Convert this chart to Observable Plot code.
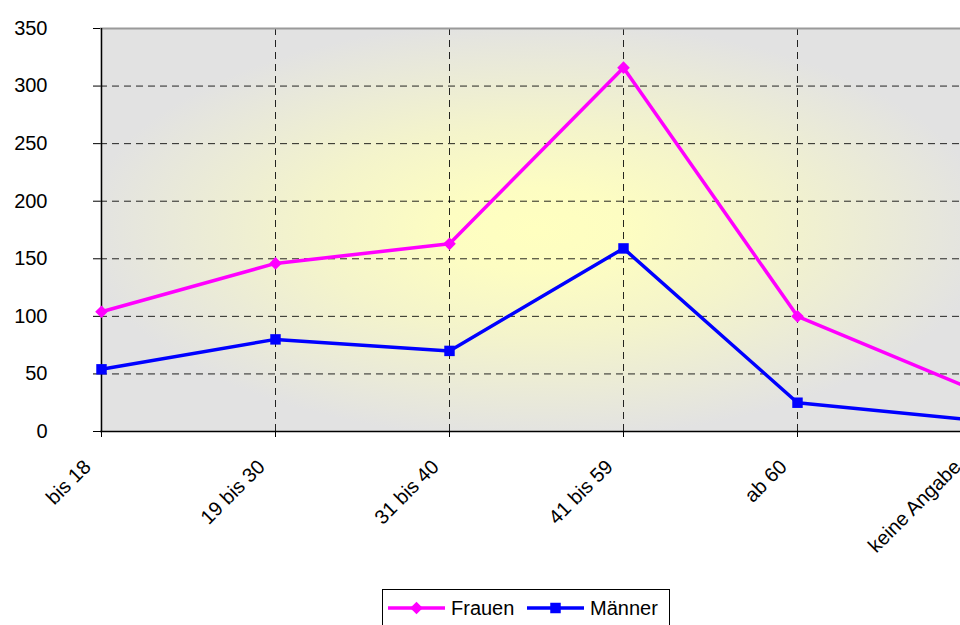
<!DOCTYPE html>
<html><head><meta charset="utf-8">
<script src="https://cdn.jsdelivr.net/npm/d3@7"></script>
<script src="https://cdn.jsdelivr.net/npm/@observablehq/plot@0.6"></script>
<style>
html,body{margin:0;padding:0;background:#fff;width:960px;height:625px;overflow:hidden;font-family:Arial,"Liberation Sans",sans-serif;}
#chart{position:relative;width:960px;height:625px;overflow:hidden;}
#chart svg.plot{position:absolute;left:0;top:0;max-width:none !important;width:1000px !important;height:588px !important;}
#legend{position:absolute;left:382px;top:589px;width:288px;height:40px;border:1px solid #000;box-sizing:border-box;background:#fff;}
.item{position:absolute;top:0;height:36px;display:flex;align-items:center;font-size:20px;color:#000;}
.item svg{margin-right:6px;}
</style></head><body><div id="chart"></div>
<script>
const categories = ["bis 18","19 bis 30","31 bis 40","41 bis 59","ab 60","keine Angabe"];
const frauen = [104,146,163,316,100,37];
const maenner = [54,80,70,159,25,10];
const yTicks = [0,50,100,150,200,250,300,350];
const seriesNames = ["Frauen","Männer"];
const seriesColors = ["#ff00ff","#0000ff"];
const seriesSymbols = ["diamond2","square"];

const data = categories.flatMap((c,i)=>[
  {cat:c, value:frauen[i], series:seriesNames[0]},
  {cat:c, value:maenner[i], series:seriesNames[1]}
]);

const plot = Plot.plot({
  width: 1000, height: 588,
  marginTop: 28, marginBottom: 157, marginLeft: 100, marginRight: 27.5,
  style: {fontFamily: "Arial, 'Liberation Sans', sans-serif", fontSize: "20px", color: "#000", background: "transparent", overflow: "visible", maxWidth: "none"},
  x: {type: "point", domain: categories, padding: 0, label: null},
  y: {domain: [0, 350], label: null},
  color: {domain: seriesNames, range: seriesColors},
  marks: [
    Plot.frame({fill: "url(#bgGrad)", stroke: null}),
    Plot.gridY(yTicks.filter(d => d > 0 && d < 350), {stroke: "#000", strokeOpacity: 0.85, strokeDasharray: "7,5", strokeWidth: 1}),
    Plot.gridX(categories.slice(1), {stroke: "#000", strokeOpacity: 0.85, strokeDasharray: "7,5", strokeWidth: 1}),
    Plot.ruleY([350], {stroke: "#9a9a9a", strokeWidth: 2}),
    Plot.axisY({ticks: yTicks, tickSize: 7, tickPadding: 46, label: null}),
    Plot.axisX({tickSize: 6, tickFormat: () => "", label: null}),
    Plot.axisX({tickSize: 0, tickRotate: -45, tickPadding: 32, dx: -14, label: null}),
    Plot.ruleX([categories[0]], {stroke: "#000", strokeWidth: 1.5}),
    Plot.ruleY([0], {stroke: "#000", strokeWidth: 1.5}),
    Plot.line(data, {x: "cat", y: "value", stroke: "series", z: "series", strokeWidth: 3.5}),
    Plot.dot(data.filter(d => d.series === seriesNames[0]), {x: "cat", y: "value", fill: "series", stroke: null, symbol: seriesSymbols[0], r: 5.7}),
    Plot.dot(data.filter(d => d.series === seriesNames[1]), {x: "cat", y: "value", fill: "series", stroke: null, symbol: seriesSymbols[1], r: 5.9})
  ]
});
plot.classList.add("plot");
const svg = d3.select(plot);
const defs = svg.insert("defs", ":first-child");
const grad = defs.append("radialGradient").attr("id", "bgGrad").attr("cx", "0.5").attr("cy", "0.5").attr("r", "0.52");
grad.append("stop").attr("offset", "0").attr("stop-color", "#ffffc0");
grad.append("stop").attr("offset", "0.2").attr("stop-color", "#fdfdc2");
grad.append("stop").attr("offset", "0.5").attr("stop-color", "#f4f4cb");
grad.append("stop").attr("offset", "1").attr("stop-color", "#e2e2e2");
document.getElementById("chart").appendChild(plot);

// Legend
const legend = document.createElement("div");
legend.id = "legend";
const itemLefts = [5, 144];
seriesNames.forEach((name, i) => {
  const item = document.createElement("div");
  item.className = "item";
  item.style.left = itemLefts[i] + "px";
  const s = d3.create("svg").attr("width", 57).attr("height", 20);
  s.append("line").attr("x1", 0).attr("x2", 57).attr("y1", 10).attr("y2", 10).attr("stroke", seriesColors[i]).attr("stroke-width", 3.5);
  const sym = i === 0 ? d3.symbolDiamond2 : d3.symbolSquare;
  s.append("path").attr("transform", "translate(28.5,10)").attr("d", d3.symbol(sym, i === 0 ? 101 : 110)()).attr("fill", seriesColors[i]);
  item.appendChild(s.node());
  const t = document.createElement("span");
  t.textContent = name;
  item.appendChild(t);
  legend.appendChild(item);
});
document.getElementById("chart").appendChild(legend);
</script>
</body></html>
